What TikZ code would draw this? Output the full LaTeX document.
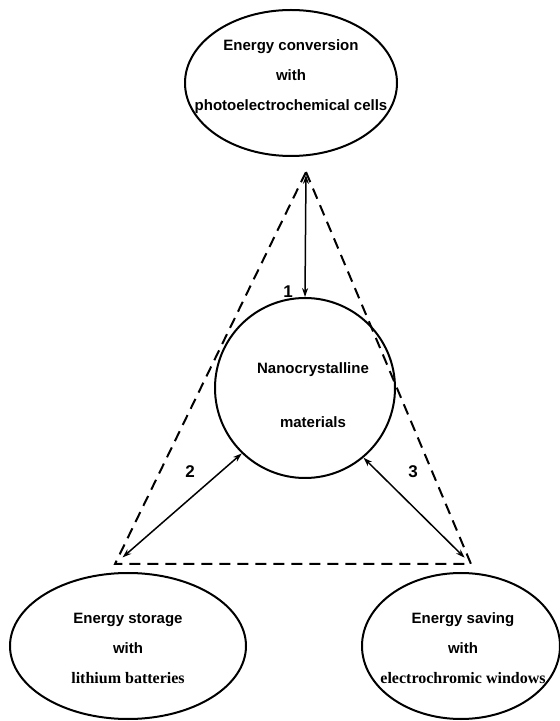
\documentclass[tikz,border=0pt]{standalone}
\usepackage{fontspec}
\setmainfont{Liberation Serif}
\setsansfont{Liberation Sans}
\usetikzlibrary{shapes.geometric,arrows.meta}

\newcommand{\serifline}[1]{{\rmfamily\bfseries\fontsize{16}{30}\selectfont #1}}

\begin{document}
\begin{tikzpicture}[x=1pt, y=1pt,
    area/.style={draw, ellipse, line width=2pt, inner sep=0pt},
    core/.style={draw, circle, line width=2pt, minimum size=180pt, inner sep=0pt},
    txt/.style={align=center, font=\sffamily\bfseries\fontsize{15}{30}\selectfont},
    frame/.style={line width=2pt, dash pattern=on 11pt off 7pt},
    arrow/.style={{Stealth[length=9pt,width=6pt]}-{Stealth[length=9pt,width=6pt]}, line width=1.5pt},
    num/.style={font=\sffamily\bfseries\fontsize{17}{20}\selectfont}
]
\useasboundingbox (0,0) rectangle (560,721);

% the three applications
\node[area, minimum width=212pt, minimum height=146pt] (conv) at (291,638) {};
\node[txt] (convtext) at (291,644) {Energy conversion\\with\\photoelectrochemical cells};
\node[area, minimum width=236pt, minimum height=146pt] (store) at (128,75) {};
\node[txt] (storetext) at (128,73) {Energy storage\\with\\\serifline{lithium batteries}};
\node[area, minimum width=198pt, minimum height=146pt] (save) at (461,75) {};
\node[txt] (savetext) at (463,73) {Energy saving\\with\\\serifline{electrochromic windows}};

% the materials in the middle
\node[core] (nano) at (305,333) {};
\node[txt, font=\sffamily\bfseries\fontsize{15}{54}\selectfont] (nanotext) at (313,326) {Nanocrystalline\\materials};

% dashed triangle
\coordinate (apex) at (306,549);
\coordinate (bl) at (115,157);
\coordinate (br) at (471,157);
\draw[frame] (apex) -- (br) -- (bl) -- cycle;

% links
\draw[arrow, shorten <=3pt] (apex) -- (nano.north);
\draw[arrow, shorten >=10pt] (nano.226) -- (bl);
\draw[arrow, shorten >=9pt] (nano.310) -- (br);

\node[num] (one) at (288,429) {1};
\node[num] (two) at (190,249) {2};
\node[num] (three) at (413,249) {3};
\end{tikzpicture}
\end{document}
